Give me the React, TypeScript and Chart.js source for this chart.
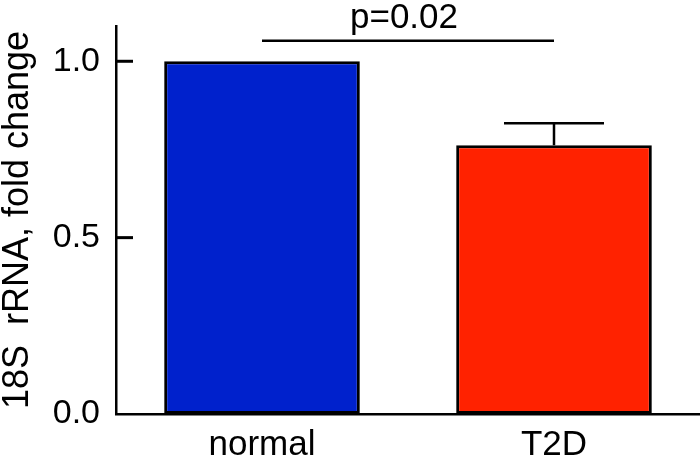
import React, { useEffect, useRef } from "react";
import { Chart, registerables } from "chart.js";

Chart.register(...registerables);

const categories = ["normal", "T2D"];
const values = [1.0, 0.762];
const errors = [0, 0.062];
const barColors = ["#0021CC", "#FF2200"];
const yTicks = [0, 0.5, 1.0];
const yTitle = "18S  rRNA, fold change";
const sigText = "p=0.02";
const sigLevel = 1.058;
const sigFrom = 0;
const sigTo = 1;

const FONT = "'Liberation Sans', Arial, Helvetica, sans-serif";

const overlayPlugin = {
  id: "overlay",
  afterDraw(chart: any) {
    const { ctx, scales, chartArea } = chart;
    const xs = scales.x;
    const ys = scales.y;
    ctx.save();
    ctx.strokeStyle = "#000";
    ctx.fillStyle = "#000";
    ctx.lineWidth = 2.5;

    // error bars
    for (let i = 0; i < values.length; i++) {
      const e = errors[i];
      if (!e) continue;
      const x = xs.getPixelForValue(i);
      const yb = ys.getPixelForValue(values[i]);
      const yt = ys.getPixelForValue(values[i] + e);
      ctx.beginPath();
      ctx.moveTo(x, yb);
      ctx.lineTo(x, yt);
      ctx.moveTo(x - 50, yt);
      ctx.lineTo(x + 50, yt);
      ctx.stroke();
    }

    // inward y ticks
    const ax = Number(chartArea.left);
    ctx.lineWidth = 3;
    for (let k = 0; k < yTicks.length; k++) {
      const v = yTicks[k];
      if (v === 0) continue;
      const y = ys.getPixelForValue(v);
      ctx.beginPath();
      ctx.moveTo(ax, y);
      ctx.lineTo(ax + 17, y);
      ctx.stroke();
    }
    ctx.lineWidth = 2.5;

    // significance bracket
    const x0 = xs.getPixelForValue(sigFrom);
    const x1 = xs.getPixelForValue(sigTo);
    const y = ys.getPixelForValue(sigLevel);
    ctx.beginPath();
    ctx.moveTo(x0, y);
    ctx.lineTo(x1, y);
    ctx.stroke();
    ctx.font = `35px ${FONT}`;
    ctx.textAlign = "center";
    ctx.textBaseline = "alphabetic";
    ctx.fillText(sigText, (x0 + x1) / 2 - 4, y - 13);
    ctx.restore();
  },
};

export default function App() {
  const ref = useRef<HTMLCanvasElement | null>(null);

  useEffect(() => {
    document.body.style.margin = "0";
    const canvas = ref.current;
    if (!canvas) return;
    const chart = new Chart(canvas, {
      type: "bar",
      data: {
        labels: categories,
        datasets: [
          {
            data: values,
            backgroundColor: barColors,
            borderColor: "#000",
            borderWidth: 3,
            borderSkipped: false,
            barPercentage: 0.67,
            categoryPercentage: 1,
          },
        ],
      },
      options: {
        responsive: false,
        animation: false,
        devicePixelRatio: 1,
        layout: { padding: { top: 26, left: 0, right: 0, bottom: 0 } },
        plugins: {
          legend: { display: false },
          tooltip: { enabled: false },
        },
        scales: {
          x: {
            type: "category",
            offset: true,
            grid: { display: false, drawTicks: false, tickLength: 0 },
            border: { display: true, color: "#000", width: 2.5 },
            ticks: {
              color: "#000",
              font: { family: FONT, size: 35 },
              padding: 10,
              maxRotation: 0,
            },
            afterFit: (s: any) => {
              s.height = 45;
              s.paddingLeft = 0;
              s.paddingRight = 0;
              s.paddingTop = 0;
              s.paddingBottom = 0;
            },
          },
          y: {
            type: "linear",
            min: 0,
            max: 1.1,
            grid: {
              display: false,
              drawOnChartArea: false,
              drawTicks: false,
              tickLength: 0,
            },
            border: { display: true, color: "#000", width: 2.5 },
            ticks: {
              color: "#000",
              font: { family: FONT, size: 34 },
              padding: 16,
              callback: (v: any) => Number(v).toFixed(1),
            },
            afterBuildTicks: (s: any) => {
              s.ticks = yTicks.map((v) => ({ value: v }));
            },
            afterFit: (s: any) => {
              s.width = 116;
              s.paddingTop = 0;
              s.paddingBottom = 0;
              s.paddingLeft = 0;
              s.paddingRight = 0;
            },
            title: {
              display: true,
              text: yTitle,
              color: "#000",
              font: { family: FONT, size: 36, lineHeight: 1 },
              padding: { top: 0, bottom: 0 },
            },
          },
        },
      },
      plugins: [overlayPlugin],
    });
    return () => chart.destroy();
  }, []);

  return (
    <canvas
      ref={ref}
      width={700}
      height={459}
      style={{ display: "block", width: 700, height: 459 }}
    />
  );
}
